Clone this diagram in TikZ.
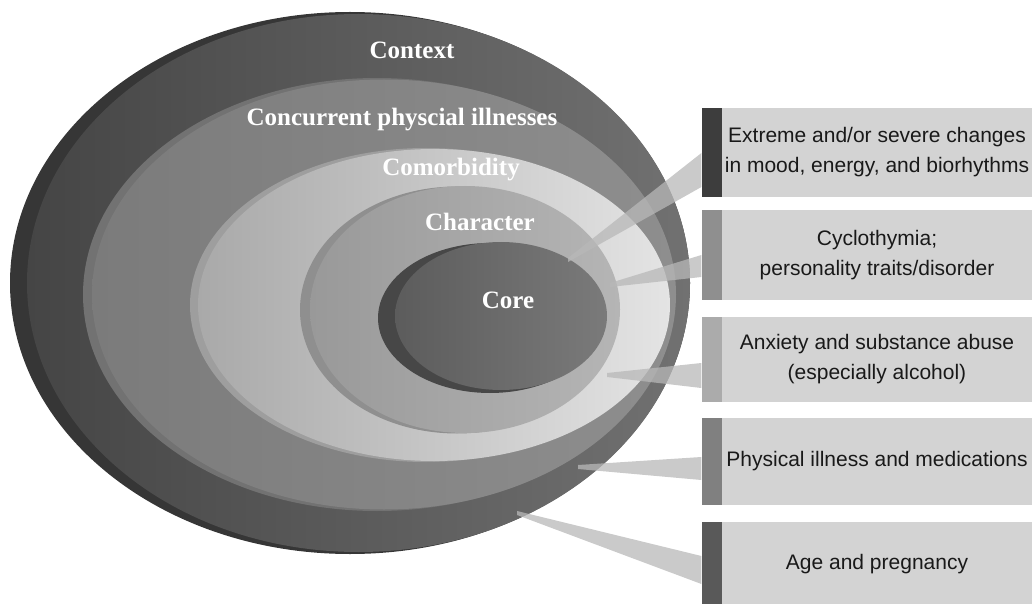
\documentclass[tikz,border=0pt]{standalone}
\usepackage{fontspec}
\setmainfont{Liberation Serif}
\newfontfamily\boxfont{Liberation Sans}
\usetikzlibrary{positioning,calc}

\tikzset{
  ringlabel/.style={text=white, font=\fontsize{25}{30}\selectfont\bfseries, inner sep=0pt},
  infobox/.style={fill=boxgray, text=black!90, minimum width=310pt, minimum height=#1,
    inner sep=0pt, align=center, font=\boxfont\fontsize{21}{30}\selectfont},
  sidebar/.style={minimum width=20pt, minimum height=#1, inner sep=0pt},
  wedge/.style={fill=wedgegray, fill opacity=0.75}
}

\begin{document}
\begin{tikzpicture}[x=1pt,y=-1pt]
    \definecolor{shellgray}{HTML}{363636}
    \definecolor{ctxdark}{HTML}{454545}
    \definecolor{ctxlight}{HTML}{717171}
    \definecolor{concshadow}{HTML}{727272}
    \definecolor{concdark}{HTML}{7B7B7B}
    \definecolor{conclight}{HTML}{8E8E8E}
    \definecolor{comshadow}{HTML}{9E9E9E}
    \definecolor{comdark}{HTML}{A9A9A9}
    \definecolor{comlight}{HTML}{E4E4E4}
    \definecolor{charshadow}{HTML}{8F8F8F}
    \definecolor{chardark}{HTML}{999999}
    \definecolor{charlight}{HTML}{B5B5B5}
    \definecolor{coreshadow}{HTML}{474747}
    \definecolor{coredark}{HTML}{5C5C5C}
    \definecolor{corelight}{HTML}{7A7A7A}
    \definecolor{boxgray}{HTML}{D3D3D3}
    \definecolor{wedgegray}{HTML}{B8B8B8}
    \useasboundingbox (0,0) rectangle (1036,604);

% context
    \fill[shellgray] (350,283) ellipse (340 and 271);
    \shade[left color=ctxdark, right color=ctxlight] (358.5,283) ellipse (331.5 and 269);
    % concurrent illnesses
    \fill[concshadow] (377,294.5) ellipse (294 and 216.5);
    \shade[left color=concdark, right color=conclight] (384,294.5) ellipse (292 and 215);
    % comorbidity
    \fill[comshadow] (426,305) ellipse (236 and 157);
    \shade[left color=comdark, right color=comlight] (434,305) ellipse (236 and 156);
    % character
    \fill[charshadow] (457,310) ellipse (157 and 123.5);
    \shade[left color=chardark, right color=charlight] (465,309.5) ellipse (155 and 123.5);
    % core
    \fill[coreshadow] (490,318) ellipse (112 and 75);
    \shade[left color=coredark, right color=corelight] (501,316) ellipse (106 and 74);

% boxes
    \node[infobox=89pt] (b1) at (877,152.5) {Extreme and/or severe changes\\in mood, energy, and biorhythms};
    \node[sidebar=89pt, fill=black!76, left=0pt of b1] (b1bar) {};
    \node[infobox=90pt] (b2) at (877,255) {Cyclothymia;\\personality traits/disorder};
    \node[sidebar=90pt, fill=black!44, left=0pt of b2] (b2bar) {};
    \node[infobox=85pt] (b3) at (877,359.5) {Anxiety and substance abuse\\(especially alcohol)};
    \node[sidebar=85pt, fill=black!33, left=0pt of b3] (b3bar) {};
    \node[infobox=87pt] (b4) at (877,461.5) {Physical illness and medications};
    \node[sidebar=87pt, fill=black!50, left=0pt of b4] (b4bar) {};
    \node[infobox=84pt] (b5) at (877,564) {Age and pregnancy};
    \node[sidebar=84pt, fill=black!65, left=0pt of b5] (b5bar) {};

% wedges
    \coordinate (t1) at (568,260);
    \coordinate (t2) at (610,285);
    \coordinate (t3) at (607,375);
    \coordinate (t4) at (578,467);
    \coordinate (t5) at (517,513);
    \fill[wedge] ($(t1)+(0,-2)$) -- ($(b1bar.west)+(0,0.5)$) -- ($(b1bar.west)+(0,34.5)$) -- ($(t1)+(0,2)$) -- cycle;
    \fill[wedge] ($(t2)+(0,-2)$) -- ($(b2bar.west)+(0,0)$) -- ($(b2bar.west)+(0,22)$) -- ($(t2)+(0,2)$) -- cycle;
    \fill[wedge] ($(t3)+(0,-2)$) -- ($(b3bar.west)+(0,3.5)$) -- ($(b3bar.west)+(0,28.5)$) -- ($(t3)+(0,2)$) -- cycle;
    \fill[wedge] ($(t4)+(0,-2)$) -- ($(b4bar.west)+(0,-4.5)$) -- ($(b4bar.west)+(0,18.5)$) -- ($(t4)+(0,2)$) -- cycle;
    \fill[wedge] ($(t5)+(0,-2)$) -- ($(b5bar.west)+(0,-8)$) -- ($(b5bar.west)+(0,20)$) -- ($(t5)+(0,2)$) -- cycle;

% labels
    \node[ringlabel] (ctxlabel) at (412,50) {Context};
    \node[ringlabel] (conclabel) at (402,120) {Concurrent physcial illnesses};
    \node[ringlabel] (comlabel) at (451,170) {Comorbidity};
    \node[ringlabel] (charlabel) at (480,222) {Character};
    \node[ringlabel] (corelabel) at (508,300) {Core};
\end{tikzpicture}
\end{document}
